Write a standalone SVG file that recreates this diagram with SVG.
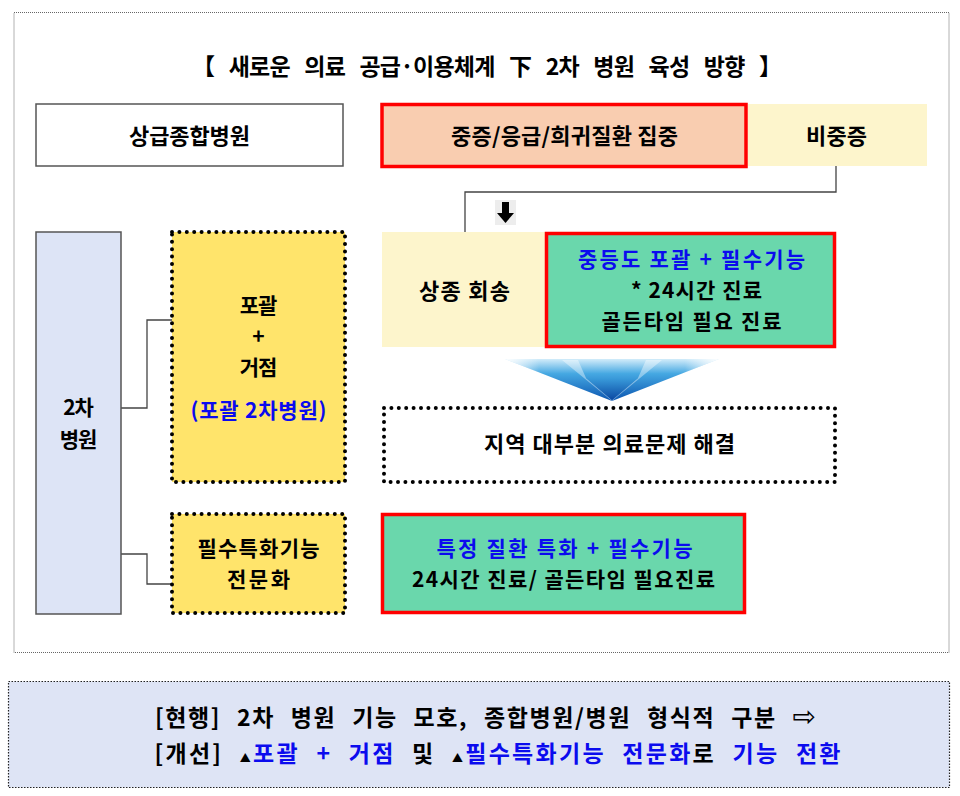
<svg xmlns="http://www.w3.org/2000/svg" width="960" height="796" viewBox="0 0 960 796">
<defs>
<style>
text{font-family:"Noto Sans CJK KR","Noto Sans",sans-serif;font-weight:bold;fill:#000;text-anchor:middle}
.t17{font-size:22px;letter-spacing:-1px}
.t21{font-size:21px;letter-spacing:-1px}
.blue{fill:#0B0BEE}
.solid{stroke:#555;stroke-width:1.5}
.red{stroke:#FF0000;stroke-width:3.5}
.dots{stroke:#000;stroke-width:4;stroke-dasharray:0 7.4;stroke-linecap:round}
.conn{fill:none;stroke:#444;stroke-width:1.3}
</style>
<linearGradient id="arrowG" x1="0" y1="0" x2="0" y2="1">
<stop offset="0" stop-color="#D2ECFA"/>
<stop offset="0.35" stop-color="#45A8E2"/>
<stop offset="1" stop-color="#0B55B0"/>
</linearGradient>
<linearGradient id="arrowH" x1="0" y1="0" x2="1" y2="0">
<stop offset="0" stop-color="#fff" stop-opacity="0.95"/>
<stop offset="0.16" stop-color="#fff" stop-opacity="0"/>
<stop offset="0.84" stop-color="#fff" stop-opacity="0"/>
<stop offset="1" stop-color="#fff" stop-opacity="0.95"/>
</linearGradient>
<linearGradient id="arrowC" x1="0" y1="0" x2="0" y2="1">
<stop offset="0" stop-color="#3A9CDB"/>
<stop offset="1" stop-color="#0A48A2"/>
</linearGradient>
</defs>
<rect width="960" height="796" fill="#fff"/>

<g id="frame">
<rect x="14" y="12.5" width="935" height="640" fill="none" stroke="#666" stroke-width="1" stroke-dasharray="1 1"/>
</g>

<g id="title">
<text x="487" y="75" textLength="590" lengthAdjust="spacing" style="font-size:23px;word-spacing:10px">【 새로운 의료 공급·이용체계 下 2차 병원 육성 방향 】</text>
</g>

<g id="connectors">
<polyline class="conn" points="836,166 836,192 465,192 465,232"/>
<polyline class="conn" points="121,408 147,408 147,320 172,320"/>
<polyline class="conn" points="121,554 147,554 147,584 172,584"/>
</g>

<g id="node-upper">
<rect x="36" y="104" width="307" height="62" fill="#fff" class="solid"/>
<text x="189" y="144" class="t17" textLength="120" lengthAdjust="spacing">상급종합병원</text>
</g>

<g id="node-severe">
<rect x="382" y="104.5" width="364" height="62" fill="#F9CDB0" class="red"/>
<text x="564" y="144" class="t17" textLength="226" lengthAdjust="spacing">중증/응급/희귀질환 집중</text>
</g>

<g id="node-nonsevere">
<rect x="748" y="104" width="179" height="62" fill="#FDF5CC"/>
<text x="836" y="144" class="t17" textLength="60" lengthAdjust="spacing">비중증</text>
</g>

<g id="small-arrow">
<rect x="495" y="200" width="21" height="25" fill="#EDEDED"/>
<rect x="502" y="202" width="7" height="12" fill="#000"/>
<polygon points="497,213 514,213 505.5,223" fill="#000"/>
</g>

<g id="node-return">
<rect x="382" y="232" width="164" height="115" fill="#FDF5CC"/>
<text x="464" y="299" class="t17" textLength="90" lengthAdjust="spacing">상종 회송</text>
</g>

<g id="node-moderate">
<rect x="546.5" y="233.5" width="288" height="113" fill="#6AD7AC" class="red"/>
<text x="691" y="267" class="t21 blue" textLength="226" lengthAdjust="spacing">중등도 포괄 + 필수기능</text>
<text x="696" y="298" class="t21" textLength="130" lengthAdjust="spacing">* 24시간 진료</text>
<text x="691" y="329" class="t21" textLength="179" lengthAdjust="spacing">골든타임 필요 진료</text>
</g>

<g id="big-arrow">
<polygon points="505,359 719,359 612,401" fill="url(#arrowG)"/>
<polygon points="505,359 719,359 612,401" fill="url(#arrowH)"/>
<polygon points="578,360 586,378 612,400 638,378 646,360 662,360 612,401 562,360" fill="#fff" opacity="0.4"/>
<polygon points="586,378 612,400 638,378" fill="url(#arrowC)"/>
</g>

<g id="node-region">
<rect x="384" y="408" width="451" height="74" fill="#fff" class="dots"/>
<text x="609" y="452" class="t17" textLength="250" lengthAdjust="spacing">지역 대부분 의료문제 해결</text>
</g>

<g id="node-secondary">
<rect x="36" y="232" width="85" height="382" fill="#DDE4F6" class="solid"/>
<text x="78" y="415" class="t21">2차</text>
<text x="78" y="447" class="t21">병원</text>
</g>

<g id="node-comprehensive">
<rect x="172" y="232" width="173" height="250" fill="#FFE46B" class="dots"/>
<text x="258" y="313" class="t21">포괄</text>
<text x="258" y="344" class="t21">+</text>
<text x="258" y="375" class="t21">거점</text>
<text x="258" y="418" class="t21 blue" textLength="135" lengthAdjust="spacing">(포괄 2차병원)</text>
</g>

<g id="node-specialized">
<rect x="172" y="514" width="173" height="99" fill="#FFE46B" class="dots"/>
<text x="258" y="556" class="t21" textLength="121" lengthAdjust="spacing">필수특화기능</text>
<text x="258" y="587" class="t21" textLength="62" lengthAdjust="spacing">전문화</text>
</g>

<g id="node-specific">
<rect x="382.5" y="514.5" width="362" height="98" fill="#6AD7AC" class="red"/>
<text x="564" y="556" class="t21 blue" textLength="255" lengthAdjust="spacing">특정 질환 특화 + 필수기능</text>
<text x="563" y="587" class="t21" textLength="302" lengthAdjust="spacing">24시간 진료/ 골든타임 필요진료</text>
</g>

<g id="summary">
<rect x="8.5" y="681.5" width="941" height="106" fill="#DEE4F5" stroke="#222" stroke-width="1.2" stroke-dasharray="1.5 1.5"/>
<text x="485" y="726" textLength="660" lengthAdjust="spacing" style="font-size:23px;letter-spacing:-1px;word-spacing:9px">[현행] 2차 병원 기능 모호, 종합병원/병원 형식적 구분 <tspan style="font-weight:normal;font-size:28px;font-family:'DejaVu Sans',sans-serif">⇨</tspan></text>
<text x="497" y="762" textLength="685" lengthAdjust="spacing" style="font-size:23px;letter-spacing:-1px;word-spacing:9px">[개선] <tspan style="font-size:11px">▲</tspan><tspan class="blue">포괄 + 거점</tspan> 및 <tspan style="font-size:11px">▲</tspan><tspan class="blue">필수특화기능 전문화</tspan>로 <tspan class="blue">기능 전환</tspan></text>
</g>
</svg>
